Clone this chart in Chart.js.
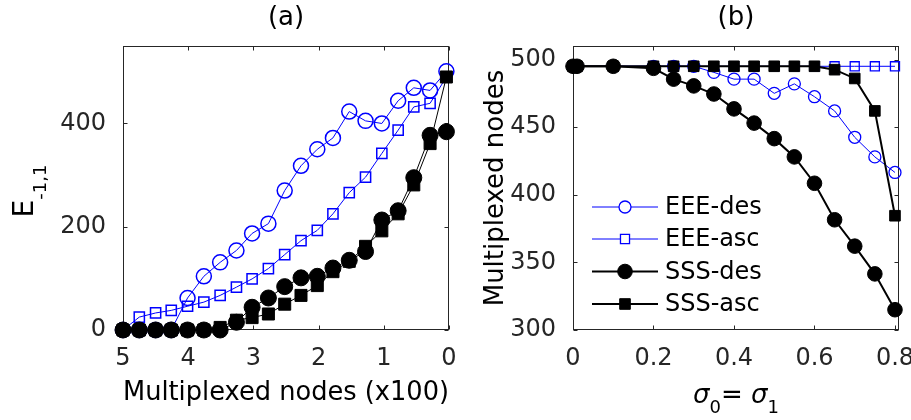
<!DOCTYPE html>
<html><head><meta charset="utf-8">
<script src="https://cdn.jsdelivr.net/npm/chart.js@4.4.1/dist/chart.umd.min.js"></script>
<style>
html,body{margin:0;padding:0;background:#fff;}
#wrap{position:relative;width:911px;height:420px;overflow:hidden;background:#fff;}
canvas{position:absolute;top:0;}
#ca{left:0;}
#cb{left:460px;}
</style></head><body>
<div id="wrap"><canvas id="ca" width="460" height="420"></canvas><canvas id="cb" width="451" height="420"></canvas></div>
<script>
// ---------- Panel (a) data ----------
const A_X = [5.00, 4.75, 4.50, 4.26, 4.01, 3.76, 3.51, 3.26, 3.02, 2.77, 2.52, 2.27, 2.02, 1.78, 1.53, 1.28, 1.03, 0.78, 0.54, 0.29, 0.04];
const A_EEE_DES = [0, 0, 0, 0, 62, 104, 131, 154, 187, 206, 270, 318, 350, 372, 423, 405, 400, 444, 469, 464, 501];
const A_EEE_ASC = [0, 25, 33, 38, 46, 54, 67, 83, 99, 119, 146, 173, 193, 225, 266, 296, 342, 387, 432, 439, 490];
const A_SSS_DES = [0, 0, 0, 0, 0, 0, 0, 15, 44, 62, 84, 101, 104, 120, 135, 152, 213, 231, 295, 377, 384];
const A_SSS_ASC = [0, 0, 0, 0, 0, 0, 5, 19, 24, 31, 50, 67, 86, 113, 133, 162, 192, 225, 281, 361, 490];
const A_X_TICKS = [5, 4, 3, 2, 1, 0];
const A_X_LABELS = ['5', '4', '3', '2', '1', '0'];
const A_Y_TICKS = [0, 200, 400];
const A_Y_LABELS = ['0', '200', '400'];

// ---------- Panel (b) data ----------
const B_SIGMA = [0, 0.01, 0.1, 0.2, 0.25, 0.3, 0.35, 0.4, 0.45, 0.5, 0.55, 0.6, 0.65, 0.7, 0.75, 0.8];
const B_EEE_DES = [495, 495, 495, 495, 495, 495, 490.5, 485.5, 485.5, 475, 482, 472.5, 462, 442.5, 428, 416.5];
const B_EEE_ASC = [495, 495, 495, 495, 495, 495, 495, 495, 495, 495, 495, 495, 495, 495, 495, 495];
const B_SSS_DES = [495, 495, 495, 493.5, 485.5, 480.5, 474.5, 463.5, 453, 441.5, 428, 408.5, 381.5, 362, 341.5, 315];
const B_SSS_ASC = [495, 495, 495, 495, 495, 495, 495, 495, 495, 495, 495, 495, 492.5, 486, 462, 384.5];
const B_X_TICKS = [0, 0.2, 0.4, 0.6, 0.8];
const B_X_LABELS = ['0', '0.2', '0.4', '0.6', '0.8'];
const B_Y_TICKS = [300, 350, 400, 450, 500];
const B_Y_LABELS = ['300', '350', '400', '450', '500'];

const SERIES_NAMES = ['EEE-des', 'EEE-asc', 'SSS-des', 'SSS-asc'];

// ---------- styling ----------
const FONT = "'DejaVu Sans', 'Liberation Sans', sans-serif";
const AXIS_COLOR = '#262626';
const BLUE = '#0000ff';
const BLACK = '#000000';

function pts(xs, ys) { return xs.map((x, i) => ({x: x, y: ys[i]})); }

function framePlugin(xt, yt) {
  return {
    id: 'frame',
    beforeDatasetsDraw(chart) {
      const {ctx, chartArea: a, scales} = chart;
      const xs = scales.x, ys = scales.y;
      ctx.save();
      ctx.strokeStyle = AXIS_COLOR;
      ctx.lineWidth = 1;
      const L = Math.round(a.left) + 0.5, R = Math.round(a.right) - 0.5;
      const T = Math.round(a.top) + 0.5, B = Math.round(a.bottom) - 0.5;
      ctx.strokeRect(L, T, R - L, B - T);
      ctx.beginPath();
      xt.forEach(v => {
        const p = Math.round(xs.getPixelForValue(v)) + 0.5;
        ctx.moveTo(p, B); ctx.lineTo(p, B - 4);
        ctx.moveTo(p, T); ctx.lineTo(p, T + 4);
      });
      yt.forEach(v => {
        const p = Math.round(ys.getPixelForValue(v)) + 0.5;
        ctx.moveTo(L, p); ctx.lineTo(L + 4, p);
        ctx.moveTo(R, p); ctx.lineTo(R - 4, p);
      });
      ctx.stroke();
      ctx.restore();
    }
  };
}

function drawParts(ctx, parts, startX) {
  let x = startX;
  parts.forEach(p => {
    ctx.font = (p.italic ? 'italic ' : '') + p.size + 'px ' + (p.family || FONT);
    ctx.fillText(p.t, x, p.dy || 0);
    x += ctx.measureText(p.t).width + (p.after || 0);
  });
}
function partsWidth(ctx, parts) {
  let w = 0;
  parts.forEach(p => {
    ctx.font = (p.italic ? 'italic ' : '') + p.size + 'px ' + (p.family || FONT);
    w += ctx.measureText(p.t).width + (p.after || 0);
  });
  return w;
}

const yLabelA = {
  id: 'yLabelA',
  afterDraw(chart) {
    const ctx = chart.ctx;
    const parts = [{t: 'E', size: 28}, {t: '-1,1', size: 18, dy: 13}];
    ctx.save();
    ctx.fillStyle = '#000';
    ctx.textBaseline = 'alphabetic';
    ctx.textAlign = 'left';
    const w = partsWidth(ctx, parts);
    const cy = (chart.chartArea.top + chart.chartArea.bottom) / 2 + 3;
    ctx.translate(33, cy);
    ctx.rotate(-Math.PI / 2);
    drawParts(ctx, parts, -w / 2);
    ctx.restore();
  }
};

const xLabelB = {
  id: 'xLabelB',
  afterDraw(chart) {
    const ctx = chart.ctx;
    const parts = [
      {t: 'σ', size: 26, italic: true},
      {t: '0', size: 18, dy: 10},
      {t: '= ', size: 26},
      {t: 'σ', size: 26, italic: true},
      {t: '1', size: 18, dy: 10}
    ];
    ctx.save();
    ctx.fillStyle = '#000';
    ctx.textBaseline = 'alphabetic';
    ctx.textAlign = 'left';
    const w = partsWidth(ctx, parts);
    const cx = (chart.chartArea.left + chart.chartArea.right) / 2;
    ctx.translate(cx, 403);
    drawParts(ctx, parts, -w / 2);
    ctx.restore();
  }
};

const legendB = {
  id: 'legendB',
  afterDraw(chart) {
    const ctx = chart.ctx;
    const a = chart.chartArea;
    const x0 = a.left + 19, x1 = a.left + 85, xm = a.left + 52, xt = a.left + 92;
    const rowY = [a.top + 161, a.top + 193, a.top + 225.5, a.top + 258];
    ctx.save();
    chart.data.datasets.forEach((ds, i) => {
      const y = rowY[i];
      ctx.strokeStyle = ds.borderColor;
      ctx.lineWidth = ds.borderWidth;
      ctx.beginPath(); ctx.moveTo(x0, y); ctx.lineTo(x1, y); ctx.stroke();
      const r = ds.pointRadius;
      ctx.lineWidth = ds.pointBorderWidth;
      ctx.beginPath();
      if (ds.pointStyle === 'circle') {
        ctx.arc(xm, y, r, 0, Math.PI * 2);
      } else {
        const s = Math.SQRT1_2 * r;
        ctx.rect(xm - s, y - s, 2 * s, 2 * s);
      }
      if (ds.pointBackgroundColor !== 'rgba(0,0,0,0)') {
        ctx.fillStyle = ds.pointBackgroundColor; ctx.fill();
      } else {
        ctx.fillStyle = '#fff'; ctx.fill();
      }
      ctx.strokeStyle = ds.pointBorderColor;
      ctx.stroke();
      ctx.fillStyle = '#000';
      ctx.font = '24px ' + FONT;
      ctx.textBaseline = 'middle';
      ctx.textAlign = 'left';
      ctx.fillText(ds.label, xt, y + 1);
    });
    ctx.restore();
  }
};

function ds(label, data, color, style, radius, lineW, pointBW, filled, order) {
  return {
    label: label, data: data, borderColor: color, backgroundColor: color,
    borderWidth: lineW, pointStyle: style, pointRadius: radius,
    pointBorderWidth: pointBW, pointBorderColor: color,
    pointBackgroundColor: filled ? color : 'rgba(0,0,0,0)',
    pointHoverRadius: radius, tension: 0, clip: false, order: order, fill: false
  };
}

function tickSetter(values) {
  return function (scale) { scale.ticks = values.map(v => ({value: v})); };
}

// ---------- Chart (a) ----------
new Chart(document.getElementById('ca'), {
  type: 'line',
  data: {
    datasets: [
      ds(SERIES_NAMES[0], pts(A_X, A_EEE_DES), BLUE, 'circle', 7.5, 1, 1.5, false, 4),
      ds(SERIES_NAMES[1], pts(A_X, A_EEE_ASC), BLUE, 'rect', 7.2, 1, 1.5, false, 3),
      ds(SERIES_NAMES[2], pts(A_X, A_SSS_DES), BLACK, 'circle', 8, 1, 1, true, 2),
      ds(SERIES_NAMES[3], pts(A_X, A_SSS_ASC), BLACK, 'rect', 8.5, 1, 1, true, 1)
    ]
  },
  options: {
    responsive: false, animation: false, events: [],
    layout: {padding: {left: 0, right: 11, top: 0, bottom: 0}},
    plugins: {
      legend: {display: false}, tooltip: {enabled: false},
      title: {display: true, text: '(a)', fullSize: false, color: '#000',
        font: {family: FONT, size: 26, weight: 'normal'}, padding: {top: 3, bottom: 11.8}}
    },
    scales: {
      x: {
        type: 'linear', min: 0, max: 5, reverse: true,
        afterBuildTicks: tickSetter(A_X_TICKS),
        afterFit(s) { s.height = 90; s.paddingLeft = 0; s.paddingRight = 0; },
        grid: {display: false, drawTicks: false}, border: {display: false},
        ticks: {color: AXIS_COLOR, font: {family: FONT, size: 24}, padding: 14, maxRotation: 0, autoSkip: false,
          callback: (v, i) => A_X_LABELS[i]},
        title: {display: true, text: 'Multiplexed nodes (x100)', color: '#000',
          font: {family: FONT, size: 26}, padding: {top: 0, bottom: 11}}
      },
      y: {
        type: 'linear', min: 0, max: 550,
        afterBuildTicks: tickSetter(A_Y_TICKS),
        afterFit(s) { s.width = 123; s.paddingTop = 0; s.paddingBottom = 0; },
        grid: {display: false, drawTicks: false}, border: {display: false},
        ticks: {color: AXIS_COLOR, font: {family: FONT, size: 24}, padding: 17, autoSkip: false,
          callback: (v, i) => A_Y_LABELS[i]}
      }
    }
  },
  plugins: [framePlugin(A_X_TICKS, A_Y_TICKS), yLabelA]
});

// ---------- Chart (b) ----------
new Chart(document.getElementById('cb'), {
  type: 'line',
  data: {
    datasets: [
      ds(SERIES_NAMES[0], pts(B_SIGMA, B_EEE_DES), BLUE, 'circle', 6, 1, 1.3, false, 4),
      ds(SERIES_NAMES[1], pts(B_SIGMA, B_EEE_ASC), BLUE, 'rect', 6.4, 1, 1.3, false, 3),
      ds(SERIES_NAMES[2], pts(B_SIGMA, B_SSS_DES), BLACK, 'circle', 7.3, 2, 1, true, 2),
      ds(SERIES_NAMES[3], pts(B_SIGMA, B_SSS_ASC), BLACK, 'rect', 7.5, 2, 1, true, 1)
    ]
  },
  options: {
    responsive: false, animation: false, events: [],
    layout: {padding: {left: 0, right: 12, top: 0, bottom: 0}},
    plugins: {
      legend: {display: false}, tooltip: {enabled: false},
      title: {display: true, text: '(b)', fullSize: false, color: '#000',
        font: {family: FONT, size: 26, weight: 'normal'}, padding: {top: 3, bottom: 11.8}}
    },
    scales: {
      x: {
        type: 'linear', min: 0, max: 0.81,
        afterBuildTicks: tickSetter(B_X_TICKS),
        afterFit(s) { s.height = 90; s.paddingLeft = 0; s.paddingRight = 0; },
        grid: {display: false, drawTicks: false}, border: {display: false},
        ticks: {color: AXIS_COLOR, font: {family: FONT, size: 24}, padding: 14, maxRotation: 0, autoSkip: false,
          callback: (v, i) => B_X_LABELS[i]}
      },
      y: {
        type: 'linear', min: 300, max: 510,
        afterBuildTicks: tickSetter(B_Y_TICKS),
        afterFit(s) { s.width = 113; s.paddingTop = 0; s.paddingBottom = 0; },
        grid: {display: false, drawTicks: false}, border: {display: false},
        ticks: {color: AXIS_COLOR, font: {family: FONT, size: 24}, padding: 17, autoSkip: false,
          callback: (v, i) => B_Y_LABELS[i]},
        title: {display: true, text: 'Multiplexed nodes', color: '#000',
          font: {family: FONT, size: 26}, padding: {top: 21, bottom: 0}}
      }
    }
  },
  plugins: [framePlugin(B_X_TICKS, B_Y_TICKS), legendB, xLabelB]
});
</script>
</body></html>
